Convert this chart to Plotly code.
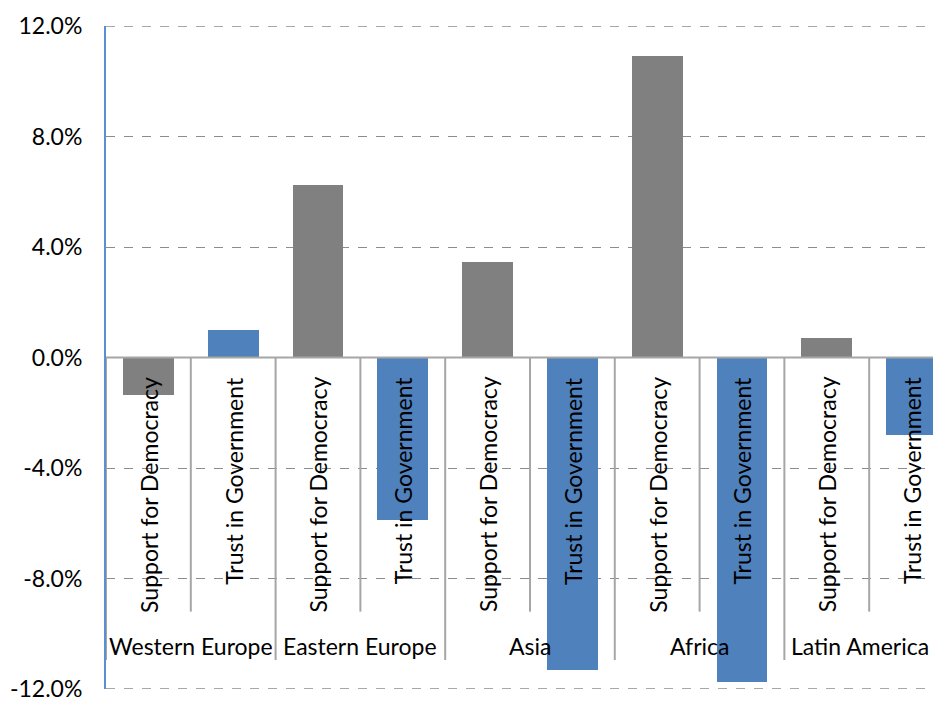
import plotly.graph_objects as go

regions = ["Western Europe", "Eastern Europe", "Asia", "Africa", "Latin America"]
measures = ["Support for Democracy", "Trust in Government"]
support = [-1.35, 6.25, 3.45, 10.9, 0.7]
trust = [1.0, -5.9, -11.3, -11.75, -2.8]
yticks = [-12, -8, -4, 0, 4, 8, 12]
ytick_text = ["-12.0%", "-8.0%", "-4.0%", "0.0%", "4.0%", "8.0%", "12.0%"]

GRAY = "#808080"
BLUE = "#4f81bd"
FONT = "Lato"
FS = 23

n = len(regions)
sx = [2 * i for i in range(n)]
tx = [2 * i + 1 for i in range(n)]

fig = go.Figure()
fig.add_trace(go.Bar(x=sx, y=support, marker=dict(color=GRAY, line=dict(width=0)),
                     width=0.6, name=measures[0], showlegend=False))
fig.add_trace(go.Bar(x=tx, y=trust, marker=dict(color=BLUE, line=dict(width=0)),
                     width=0.6, name=measures[1], showlegend=False))

shapes = []
annotations = []
# boundary gridlines
for yb in (yticks[0], yticks[-1]):
    shapes.append(dict(type="line", xref="paper", yref="y", x0=0, x1=1, y0=yb, y1=yb,
                       line=dict(color="#8c8c8c", width=1.3, dash="dash"), layer="below"))
# zero line
shapes.append(dict(type="line", xref="paper", yref="y", x0=0, x1=1, y0=0, y1=0,
                   line=dict(color="#a6a6a6", width=2), layer="above"))
# category dividers
for k in range(2 * n + 1):
    xb = k - 0.5
    y1 = -10.95 if k % 2 == 0 else -9.2
    shapes.append(dict(type="line", xref="x", yref="y", x0=xb, x1=xb, y0=0, y1=y1,
                       line=dict(color="#a6a6a6", width=2), layer="above"))

for i in range(n):
    for j, m in enumerate(measures):
        annotations.append(dict(x=2 * i + j, y=0, xref="x", yref="y", text=m,
                                textangle=-90, showarrow=False, yanchor="top",
                                xanchor="center", yshift=-17,
                                font=dict(family=FONT, size=FS, color="#000000")))
    annotations.append(dict(x=2 * i + 0.5, y=-10.43, xref="x", yref="y", text=regions[i],
                            showarrow=False, xanchor="center", yanchor="middle",
                            xshift=(-9 if i == n - 1 else 0),
                            font=dict(family=FONT, size=FS, color="#000000")))

fig.update_layout(
    width=933, height=694,
    margin=dict(l=98, r=0, t=18, b=11),
    paper_bgcolor="white", plot_bgcolor="white",
    bargap=0, barmode="overlay",
    shapes=shapes, annotations=annotations,
    font=dict(family=FONT, size=FS, color="#000000"),
    xaxis=dict(range=[-0.5, 9.347], showticklabels=False, showgrid=False,
               zeroline=False, showline=False, ticks=""),
    yaxis=dict(range=[-12, 12], tickvals=yticks, ticktext=ytick_text,
               showgrid=True, gridcolor="#8c8c8c", griddash="dash", gridwidth=1.3,
               zeroline=False, showline=True, linecolor="#5b8fd0", linewidth=2,
               ticks="", ticklabelstandoff=17, ticklabeloverflow="allow",
               tickfont=dict(family=FONT, size=FS, color="#000000")),
)

fig.write_html("out.html")
